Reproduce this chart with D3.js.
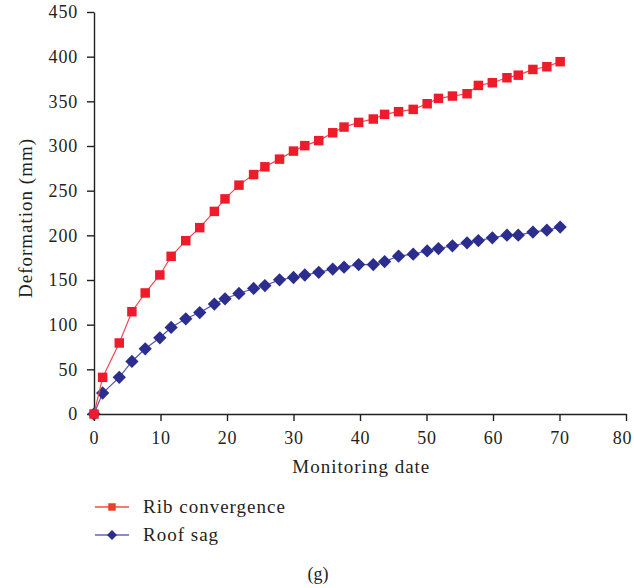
<!DOCTYPE html>
<html>
<head>
<meta charset="utf-8">
<script src="https://cdn.jsdelivr.net/npm/d3@7"></script>
<style>
  body { margin: 0; background: #fff; }
  svg text { font-family: "Liberation Serif", "DejaVu Serif", serif; fill: #231f20; }
</style>
</head>
<body>
<div id="chart"></div>
<script>
// monitoring days (x) and deformation in mm
const days = [0, 1.3, 3.8, 5.7, 7.7, 9.9, 11.6, 13.8, 15.9, 18.1, 19.7, 21.8, 24, 25.7, 27.9, 30,
  31.7, 33.8, 35.9, 37.6, 39.8, 42, 43.7, 45.8, 48, 50.1, 51.8, 53.9, 56.1, 57.8, 59.9, 62.1,
  63.8, 66, 68.1, 70.1];
const ribConvergence = [0, 41, 79.5, 114.5, 135.5, 155.6, 176.5, 194, 208.6, 226.8, 240.8, 256.2,
  268, 276.7, 285.3, 294.3, 300.4, 306, 314.8, 321.2, 326.4, 330.2, 335.4, 338.4, 341, 347.3,
  353.3, 355.9, 358.5, 367.8, 370.8, 376.4, 379.3, 385.7, 388.7, 394.4];
const roofSag = [0, 23.5, 41, 58.8, 73, 85.3, 96.9, 106.6, 113.6, 123, 129, 134.9, 140.5, 143.8,
  150.2, 152.8, 155.6, 158.6, 162.2, 164.4, 167.3, 167.3, 170.7, 176.7, 178.9, 182.6, 185.2,
  188.3, 191.6, 194.2, 197.2, 200.2, 200.2, 203.6, 205.8, 209.2];
const xTicks = [0, 10, 20, 30, 40, 50, 60, 70, 80];
const yTicks = [0, 50, 100, 150, 200, 250, 300, 350, 400, 450];
const seriesNames = ["Rib convergence", "Roof sag"];

const width = 634, height = 588;
const margin = {left: 94, right: 8, top: 12, bottom: 174};

const svg = d3.select("#chart").append("svg")
  .attr("width", width).attr("height", height);

const x = d3.scaleLinear().domain([0, 80]).range([margin.left, width - margin.right]);
const y = d3.scaleLinear().domain([0, 450]).range([height - margin.bottom, margin.top]);

// axes
const xAxis = svg.append("g")
  .attr("transform", `translate(0,${y(0)})`)
  .call(d3.axisBottom(x).tickValues(xTicks).tickSize(7).tickPadding(10).tickSizeOuter(0));
const yAxis = svg.append("g")
  .attr("transform", `translate(${x(0)},0)`)
  .call(d3.axisLeft(y).tickValues(yTicks).tickSize(7).tickPadding(9).tickSizeOuter(0));
[xAxis, yAxis].forEach(a => {
  a.selectAll("path, line").attr("stroke", "#231f20").attr("stroke-width", 1.4);
  a.selectAll("text").attr("font-size", 18).attr("fill", "#231f20")
    .attr("letter-spacing", 0.8)
    .style("font-family", '"Liberation Serif", serif');
});
// last x label sits on the page edge; nudge it in so it stays readable
xAxis.selectAll(".tick").filter(d => d === 80).select("text").attr("dx", -4);

svg.append("text")
  .attr("x", x(40.2)).attr("y", 473)
  .attr("text-anchor", "middle").attr("font-size", 19).attr("letter-spacing", 1)
  .text("Monitoring date");
svg.append("text")
  .attr("transform", `translate(32,218) rotate(-90)`)
  .attr("text-anchor", "middle").attr("font-size", 19).attr("letter-spacing", 1)
  .text("Deformation (mm)");

const sq = d3.symbol().type(d3.symbolSquare);
const line = vals => d3.line().x((d, i) => x(days[i])).y(d => y(d))(vals);

// roof sag (blue diamonds)
svg.append("path").attr("d", line(roofSag))
  .attr("fill", "none").attr("stroke", "#5a55a8").attr("stroke-width", 1.2);
svg.append("g").selectAll("path").data(roofSag).join("path")
  .attr("d", sq.size(88)())
  .attr("transform", (d, i) => `translate(${x(days[i])},${y(d)}) rotate(45)`)
  .attr("fill", "#2b2e8f");

// rib convergence (red squares)
svg.append("path").attr("d", line(ribConvergence))
  .attr("fill", "none").attr("stroke", "#ec4a55").attr("stroke-width", 1.2);
svg.append("g").selectAll("path").data(ribConvergence).join("path")
  .attr("d", sq.size(90)())
  .attr("transform", (d, i) => `translate(${x(days[i])},${y(d)})`)
  .attr("fill", "#ee1c2a");

// legend
const legend = svg.append("g");
const legendStyle = [
  {line: "#f0503c", fill: "#e8402a", rot: 0, size: 56},
  {line: "#6a62b4", fill: "#2d2a8e", rot: 45, size: 50}
];
seriesNames.forEach((name, i) => {
  const ly = 507 + i * 28;
  const st = legendStyle[i];
  legend.append("line")
    .attr("x1", 95).attr("x2", 129).attr("y1", ly).attr("y2", ly)
    .attr("stroke", st.line).attr("stroke-width", 1.4);
  legend.append("path")
    .attr("d", sq.size(st.size)())
    .attr("transform", `translate(112,${ly}) rotate(${st.rot})`)
    .attr("fill", st.fill);
  legend.append("text")
    .attr("x", 143).attr("y", ly + 6).attr("font-size", 19).attr("letter-spacing", 1)
    .text(name);
});

svg.append("text")
  .attr("x", 318).attr("y", 580)
  .attr("text-anchor", "middle").attr("font-size", 18)
  .text("(g)");
</script>
</body>
</html>
